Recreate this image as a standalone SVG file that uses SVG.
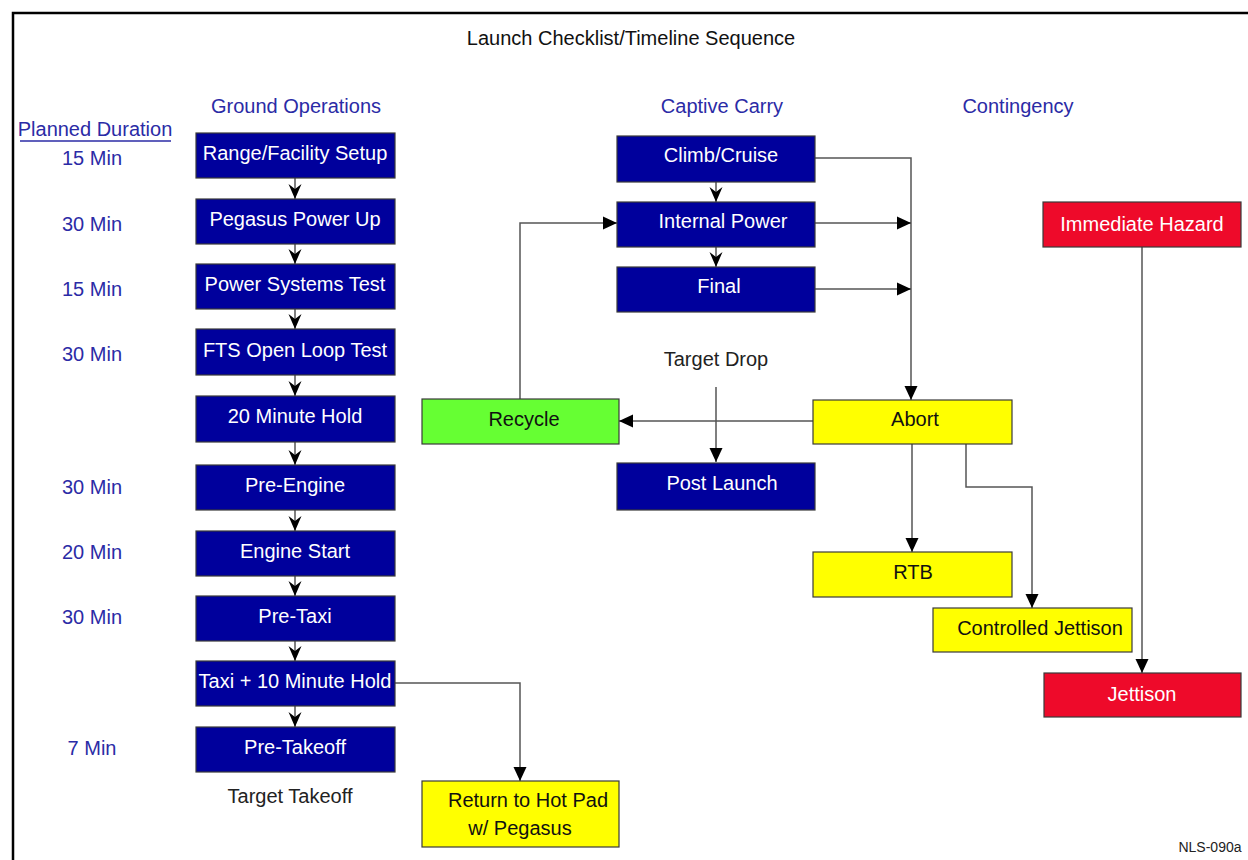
<svg xmlns="http://www.w3.org/2000/svg" width="1248" height="860" viewBox="0 0 1248 860">
<style>
text{font-family:"Liberation Sans",Arial,sans-serif;font-size:20px;text-anchor:middle}
.navy rect{fill:#00009c;stroke:#3a3a3a;stroke-width:1.2}
.navy text{fill:#ffffff}
.yel rect{fill:#ffff00;stroke:#3a3a3a;stroke-width:1.2}
.yel text{fill:#111111}
.grn rect{fill:#66ff33;stroke:#3a3a3a;stroke-width:1.2}
.grn text{fill:#111111}
.red rect{fill:#ee0a2a;stroke:#3a3a3a;stroke-width:1.2}
.red text{fill:#ffffff}
.hdr{fill:#2b2ba6}
.dur{fill:#2b2ba6}
.lbl{fill:#222222}
.conn path{fill:none;stroke:#555555;stroke-width:1.5}
.conn .big{marker-end:url(#tri)}
.conn .small{marker-end:url(#vee)}
</style>
<defs>
<marker id="tri" markerUnits="userSpaceOnUse" markerWidth="16" markerHeight="16" viewBox="0 0 16 16" refX="15" refY="8" orient="auto">
<path d="M1,1.5 L15,8 L1,14.5 Z" fill="#000000"/>
</marker>
<marker id="vee" markerUnits="userSpaceOnUse" markerWidth="16" markerHeight="16" viewBox="0 0 16 16" refX="15" refY="8" orient="auto">
<path d="M0,1.5 L15,8 L0,14.5 L5,8 Z" fill="#000000"/>
</marker>
</defs>
<rect x="0" y="0" width="1248" height="860" fill="#ffffff"/>
<path d="M13,860 V13 H1248" fill="none" stroke="#000000" stroke-width="2.5"/>

<g id="titles">
<text x="631" y="45" fill="#111111">Launch Checklist/Timeline Sequence</text>
<text class="hdr" x="296" y="113">Ground Operations</text>
<text class="hdr" x="722" y="113">Captive Carry</text>
<text class="hdr" x="1018" y="113">Contingency</text>
<text class="hdr" x="95" y="136">Planned Duration</text>
<line x1="20" y1="141" x2="171" y2="141" stroke="#2b2ba6" stroke-width="1.5"/>
<text class="dur" x="92" y="165">15 Min</text>
<text class="dur" x="92" y="231">30 Min</text>
<text class="dur" x="92" y="296">15 Min</text>
<text class="dur" x="92" y="361">30 Min</text>
<text class="dur" x="92" y="494">30 Min</text>
<text class="dur" x="92" y="559">20 Min</text>
<text class="dur" x="92" y="624">30 Min</text>
<text class="dur" x="92" y="755">7 Min</text>
<text class="lbl" x="290" y="803">Target Takeoff</text>
<text class="lbl" x="716" y="366">Target Drop</text>
<text class="lbl" x="1210" y="852" style="font-size:14px">NLS-090a</text>
</g>

<g id="connectors" class="conn">
<path class="small" d="M295,178 V199"/>
<path class="small" d="M295,244 V264"/>
<path class="small" d="M295,309 V329"/>
<path class="small" d="M295,375 V396"/>
<path class="small" d="M295,442 V465"/>
<path class="small" d="M295,510 V531"/>
<path class="small" d="M295,576 V596"/>
<path class="small" d="M295,641 V661"/>
<path class="small" d="M295,706 V727"/>
<path class="small" d="M716,182 V202"/>
<path class="small" d="M716,247 V267"/>
<path class="big" d="M815,158 H911 V400"/>
<path class="big" d="M815,223 H911"/>
<path class="big" d="M815,289 H911"/>
<path class="big" d="M520,399 V223 H617"/>
<path class="big" d="M813,421 H619"/>
<path class="big" d="M716,387 V462"/>
<path class="big" d="M912,444 V552"/>
<path class="big" d="M966,444 V487 H1032 V608"/>
<path class="big" d="M1142,247 V673"/>
<path class="big" d="M394,683 H520 V781"/>
</g>

<g id="range-setup" class="navy"><rect x="196" y="133" width="199" height="45"/><text x="295" y="160">Range/Facility Setup</text></g>
<g id="pegasus-power-up" class="navy"><rect x="196" y="199" width="199" height="45"/><text x="295" y="226">Pegasus Power  Up</text></g>
<g id="power-systems-test" class="navy"><rect x="196" y="264" width="199" height="45"/><text x="295" y="291">Power Systems Test</text></g>
<g id="fts-open-loop" class="navy"><rect x="196" y="329" width="199" height="46"/><text x="295" y="357">FTS Open Loop Test</text></g>
<g id="hold-20" class="navy"><rect x="196" y="396" width="199" height="46"/><text x="295" y="423">20 Minute Hold</text></g>
<g id="pre-engine" class="navy"><rect x="196" y="465" width="199" height="45"/><text x="295" y="492">Pre-Engine</text></g>
<g id="engine-start" class="navy"><rect x="196" y="531" width="199" height="45"/><text x="295" y="558">Engine Start</text></g>
<g id="pre-taxi" class="navy"><rect x="196" y="596" width="199" height="45"/><text x="295" y="623">Pre-Taxi</text></g>
<g id="taxi-hold" class="navy"><rect x="196" y="661" width="199" height="45"/><text x="295" y="688">Taxi + 10 Minute Hold</text></g>
<g id="pre-takeoff" class="navy"><rect x="196" y="727" width="199" height="45"/><text x="295" y="754">Pre-Takeoff</text></g>

<g id="climb-cruise" class="navy"><rect x="617" y="136" width="198" height="46"/><text x="721" y="162">Climb/Cruise</text></g>
<g id="internal-power" class="navy"><rect x="617" y="202" width="198" height="45"/><text x="723" y="228">Internal Power</text></g>
<g id="final" class="navy"><rect x="617" y="267" width="198" height="45"/><text x="719" y="293">Final</text></g>
<g id="post-launch" class="navy"><rect x="617" y="463" width="198" height="47"/><text x="722" y="490">Post Launch</text></g>

<g id="recycle" class="grn"><rect x="422" y="399" width="197" height="45"/><text x="524" y="426">Recycle</text></g>
<g id="abort" class="yel"><rect x="813" y="400" width="199" height="44"/><text x="915" y="426">Abort</text></g>
<g id="rtb" class="yel"><rect x="813" y="552" width="199" height="45"/><text x="913" y="579">RTB</text></g>
<g id="controlled-jettison" class="yel"><rect x="933" y="608" width="199" height="44"/><text x="1040" y="635">Controlled Jettison</text></g>
<g id="return-hot-pad" class="yel"><rect x="422" y="781" width="197" height="66"/><text x="528" y="807">Return to Hot Pad</text><text x="520" y="835">w/ Pegasus</text></g>

<g id="immediate-hazard" class="red"><rect x="1043" y="202" width="198" height="45"/><text x="1142" y="231">Immediate Hazard</text></g>
<g id="jettison" class="red"><rect x="1044" y="673" width="197" height="44"/><text x="1142" y="701">Jettison</text></g>
</svg>
